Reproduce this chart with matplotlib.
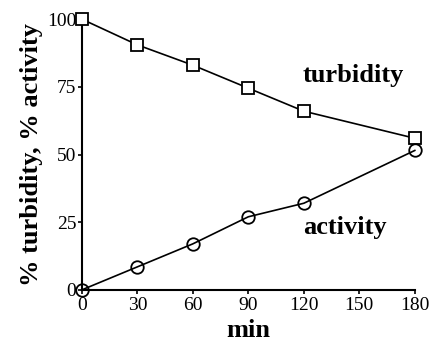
import matplotlib.pyplot as plt

# data
minutes = [0, 30, 60, 90, 120, 180]
turbidity = [100, 90.5, 83, 74.5, 66, 56]
activity = [0, 8.5, 17, 27, 32, 51.5]

x_ticks = [0, 30, 60, 90, 120, 150, 180]
y_ticks = [0, 25, 50, 75, 100]

plt.rcParams['font.family'] = ['Liberation Serif', 'DejaVu Serif']

fig = plt.figure(figsize=(4.33, 3.48), dpi=100)
ax = fig.add_axes([0.189, 0.167, 0.769, 0.778])

ax.plot(minutes, turbidity, color='black', lw=1.2, marker='s', ms=9,
        mfc='white', mec='black', mew=1.3, clip_on=False, zorder=3)
ax.plot(minutes, activity, color='black', lw=1.2, marker='o', ms=9,
        mfc='none', mec='black', mew=1.3, clip_on=False, zorder=3)

ax.text(147, 79, 'turbidity', fontsize=19, fontweight='bold', ha='center', va='center')
ax.text(142, 23, 'activity', fontsize=19, fontweight='bold', ha='center', va='center')

ax.set_xlim(0, 180)
ax.set_ylim(0, 100)
ax.set_xticks(x_ticks)
ax.set_yticks(y_ticks)
ax.tick_params(labelsize=14, length=3, width=1.2, pad=1, direction='out')
ax.tick_params(axis='x', pad=2)

for s in ['top', 'right']:
    ax.spines[s].set_visible(False)
for s in ['left', 'bottom']:
    ax.spines[s].set_linewidth(1.5)

ax.set_xlabel('min', fontsize=19, fontweight='bold', labelpad=4)
ax.set_ylabel('% turbidity, % activity', fontsize=19, fontweight='bold', labelpad=3)

fig.savefig('out.png', dpi=100)
